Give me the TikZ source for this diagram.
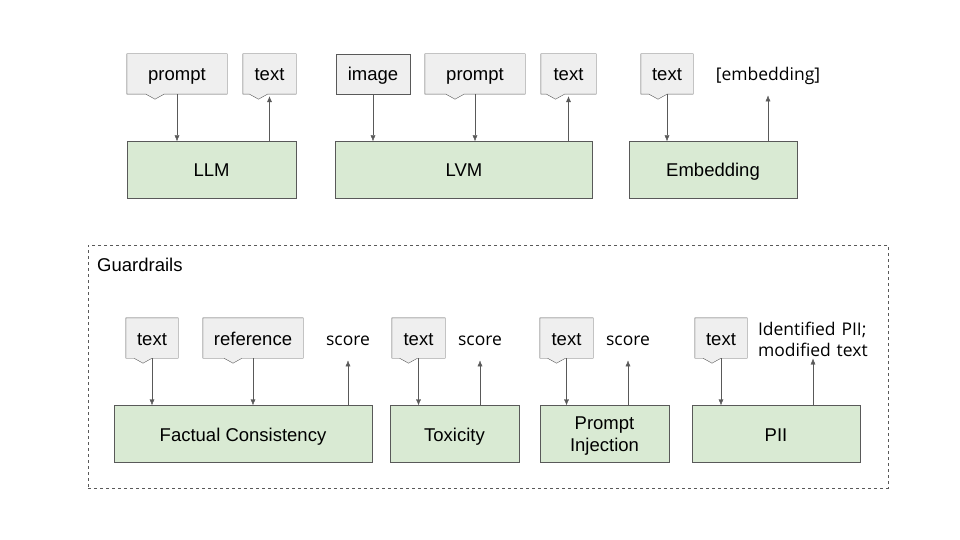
\documentclass[tikz,border=0pt]{standalone}
\usepackage{fontspec}
\setmainfont{Liberation Sans}
\newfontfamily\labelfont{Open Sans}
\usetikzlibrary{positioning,arrows.meta,backgrounds}
\definecolor{boxgreen}{HTML}{D9EAD3}
\definecolor{iogray}{HTML}{EFEFEF}
\definecolor{linegray}{HTML}{595959}

\begin{document}
\begin{tikzpicture}[
  x=1pt, y=-1pt,
  font=\fontsize{18.5}{22}\selectfont,
  model/.style={draw=linegray, fill=boxgreen, minimum height=57pt, inner sep=0pt, align=center, text height=17pt, text depth=3pt},
  io/.style={minimum height=40pt, inner sep=0pt, text height=17pt, text depth=3pt},
  iobox/.style={io, draw=linegray, fill=iogray},
  iofill/.style={draw=linegray, fill=iogray},
  outlabel/.style={font=\labelfont\fontsize{17.5}{21}\selectfont, inner sep=0pt},
  flow/.style={draw=linegray, -{Latex[length=6pt,width=5pt]}},
]
\useasboundingbox (0,0) rectangle (960,540);

% models
\node[model, minimum width=169pt] (llm) at (211.5,170) {LLM};
\node[model, minimum width=257pt] (lvm) at (464,170) {LVM};
\node[model, minimum width=168pt] (emb) at (713,170) {Embedding};

\node[io, minimum width=100pt] (llmin) at (177,74) {prompt};
\node[io, minimum width=53pt] (llmout) at (269.5,74) {text};
\node[iobox, minimum width=74pt] (lvmimg) at (373,74) {image};
\node[io, minimum width=100pt] (lvmin) at (475,74) {prompt};
\node[io, minimum width=55pt] (lvmout) at (568.5,74) {text};
\node[io, minimum width=52pt] (embin) at (667,74) {text};
\node[outlabel, anchor=base] (embout) at (768,81) {[embedding]};

\draw[flow] (llmin.south) -- (llmin.south |- llm.north);
\draw[flow] (llm.north -| llmout.south) -- ([yshift=-2pt]llmout.south);
\draw[flow] (lvmimg.south) -- (lvmimg.south |- lvm.north);
\draw[flow] (lvmin.south) -- (lvmin.south |- lvm.north);
\draw[flow] (lvm.north -| lvmout.south) -- ([yshift=-2pt]lvmout.south);
\draw[flow] (embin.south) -- (embin.south |- emb.north);
\draw[flow] (emb.north -| embout.south) -- ([yshift=-10pt]embout.south);

% guardrails
\node[draw=linegray, dashed, minimum width=800pt, minimum height=243pt, inner sep=0pt] (guard) at (488,366.5) {};
\node[anchor=north west, inner sep=0pt] (guardlabel) at (97,258) {Guardrails};

\node[model, minimum width=258pt] (fact) at (243,434) {Factual Consistency};
\node[model, minimum width=129pt] (tox) at (454.5,434) {Toxicity};
\node[model, minimum width=129pt, text height={}, text depth=0pt] (inj) at (604.5,434) {Prompt\\Injection};
\node[model, minimum width=168pt] (pii) at (776,434) {PII};

\node[io, minimum width=52pt] (factin) at (152,338) {text};
\node[io, minimum width=100pt] (factref) at (253,338) {reference};
\node[outlabel, anchor=base] (factout) at (348,345) {score};
\node[io, minimum width=53pt] (toxin) at (418.5,338) {text};
\node[outlabel, anchor=base] (toxout) at (480,345) {score};
\node[io, minimum width=53pt] (injin) at (566.5,338) {text};
\node[outlabel, anchor=base] (injout) at (628,345) {score};
\node[io, minimum width=52pt] (piiin) at (721,338) {text};
\node[outlabel, align=left, text width=110pt] (piiout) at (813,339) {Identified PII;\\modified text};

\draw[flow] (factin.south) -- (factin.south |- fact.north);
\draw[flow] (factref.south) -- (factref.south |- fact.north);
\draw[flow] (fact.north -| factout.south) -- ([yshift=-15pt]factout.south);
\draw[flow] (toxin.south) -- (toxin.south |- tox.north);
\draw[flow] (tox.north -| toxout.south) -- ([yshift=-15pt]toxout.south);
\draw[flow] (injin.south) -- (injin.south |- inj.north);
\draw[flow] (inj.north -| injout.south) -- ([yshift=-15pt]injout.south);
\draw[flow] (piiin.south) -- (piiin.south |- pii.north);
\draw[flow] (pii.north -| piiout.south) -- ([yshift=-2pt]piiout.south);

% speech-bubble outlines with the small notch
\begin{scope}[on background layer]
\foreach \n/\o in {llmin/-22, llmout/-11, lvmin/-20, lvmout/-13, embin/-9,
                   factin/-9, factref/-20, toxin/-10, injin/-10, piiin/-9}
  \filldraw[iofill] (\n.north west) -- (\n.north east) -- (\n.south east)
    -- ([xshift={(\o+9)*1pt}]\n.south) -- ([xshift={\o*1pt}, yshift=-5pt]\n.south)
    -- ([xshift={(\o-9)*1pt}]\n.south) -- (\n.south west) -- cycle;
\end{scope}
\end{tikzpicture}
\end{document}
